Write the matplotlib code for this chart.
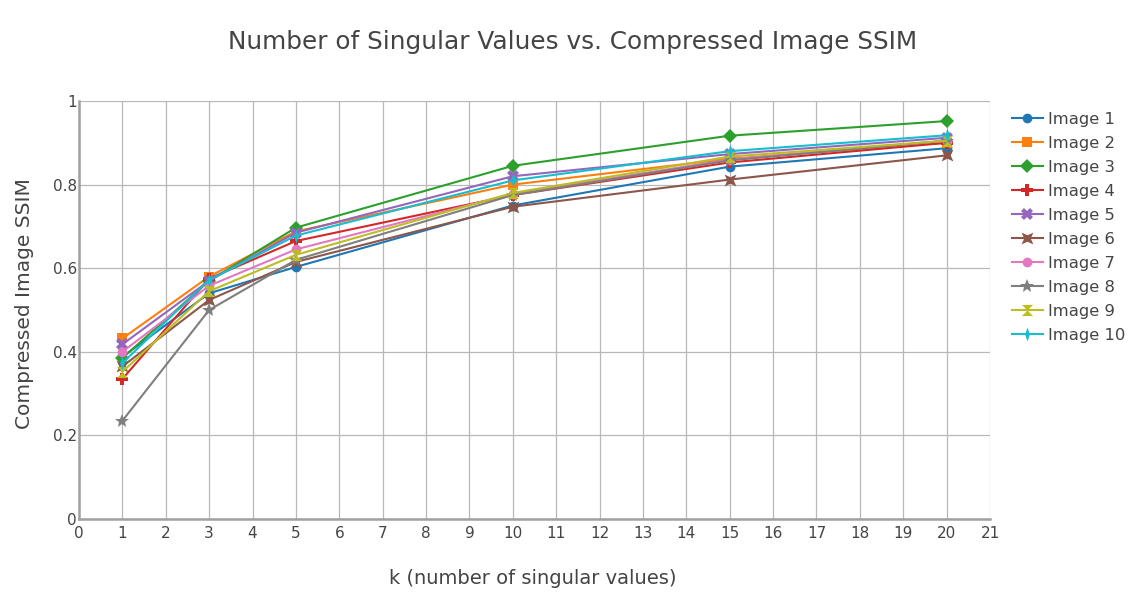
import matplotlib
matplotlib.use("Agg")
import matplotlib.pyplot as plt
from matplotlib.path import Path
import numpy as np

plt.rcParams['font.family'] = ['DejaVu Sans']

k = [1, 3, 5, 10, 15, 20]
img1 = [0.388, 0.540, 0.603, 0.750, 0.843, 0.887]
img2 = [0.432, 0.580, 0.688, 0.800, 0.862, 0.900]
img3 = [0.385, 0.570, 0.697, 0.845, 0.917, 0.952]
img4 = [0.335, 0.575, 0.665, 0.775, 0.853, 0.900]
img5 = [0.418, 0.570, 0.685, 0.820, 0.873, 0.912]
img6 = [0.365, 0.524, 0.615, 0.747, 0.812, 0.870]
img7 = [0.400, 0.558, 0.645, 0.778, 0.860, 0.905]
img8 = [0.235, 0.500, 0.620, 0.775, 0.858, 0.905]
img9 = [0.352, 0.545, 0.632, 0.780, 0.867, 0.905]
img10 = [0.373, 0.572, 0.678, 0.810, 0.880, 0.918]
series = [img1, img2, img3, img4, img5, img6, img7, img8, img9, img10]
names = [f"Image {i}" for i in range(1, 11)]
colors = ['#1f77b4', '#ff7f0e', '#2ca02c', '#d62728', '#9467bd',
          '#8c564b', '#e377c2', '#7f7f7f', '#bcbd22', '#17becf']

star_square = Path([(-1, -1), (0, -0.55), (1, -1), (0.55, 0), (1, 1), (0, 0.55),
                    (-1, 1), (-0.55, 0), (-1, -1)], closed=True)
hourglass = Path([(-1, 1), (1, 1), (-1, -1), (1, -1), (-1, 1)], closed=True)
thin_diamond = Path([(0, 1.3), (0.45, 0), (0, -1.3), (-0.45, 0), (0, 1.3)], closed=True)
markers = ['o', 's', 'D', 'P', 'X', star_square, 'o', '*', hourglass, thin_diamond]
msizes = [7, 7.5, 7, 8.5, 8.5, 8.5, 7, 10, 8, 10]

fig = plt.figure(figsize=(11.34, 5.99), dpi=100)
ax = fig.add_axes([79/1134, 1-519/599, (990-79)/1134, (519-101)/599])

for s, n, c, m, ms in zip(series, names, colors, markers, msizes):
    ax.plot(k, s, color=c, lw=1.5, marker=m, markersize=ms, label=n,
            markeredgewidth=0, clip_on=False, zorder=3)

ax.set_xlim(0, 21)
ax.set_ylim(0, 1)
ax.set_xticks(range(0, 22))
ax.set_yticks([0, 0.2, 0.4, 0.6, 0.8, 1.0])
ax.set_yticklabels(['0', '0.2', '0.4', '0.6', '0.8', '1'])
ax.grid(True, color='#b8b8b8', lw=0.9, zorder=0)
ax.set_axisbelow(True)
for sp in ['top', 'right']:
    ax.spines[sp].set_visible(False)
for sp in ['left', 'bottom']:
    ax.spines[sp].set_color('#a0a0a0')
    ax.spines[sp].set_linewidth(1.8)
ax.tick_params(length=0, labelsize=11, colors='#444444')
ax.tick_params(axis='x', pad=5)
ax.tick_params(axis='y', pad=1.5)

fig.text(533/1134, 1-578/599, 'k (number of singular values)', ha='center', va='center',
         fontsize=14, color='#444444')
fig.text(25/1134, 1-304/599, 'Compressed Image SSIM', ha='center', va='center',
         rotation=90, fontsize=14.5, color='#444444')
fig.text(573/1134, 1-42/599, 'Number of Singular Values vs. Compressed Image SSIM',
         ha='center', va='center', fontsize=17.8, color='#444444')

leg = ax.legend(loc='upper left', bbox_to_anchor=(1.012, 1.0), frameon=False,
                fontsize=11.8, handlelength=1.9, handletextpad=0.3, labelspacing=0.55,
                borderaxespad=0.25)
for t in leg.get_texts():
    t.set_color('#444444')

fig.savefig('out.png', dpi=100)
